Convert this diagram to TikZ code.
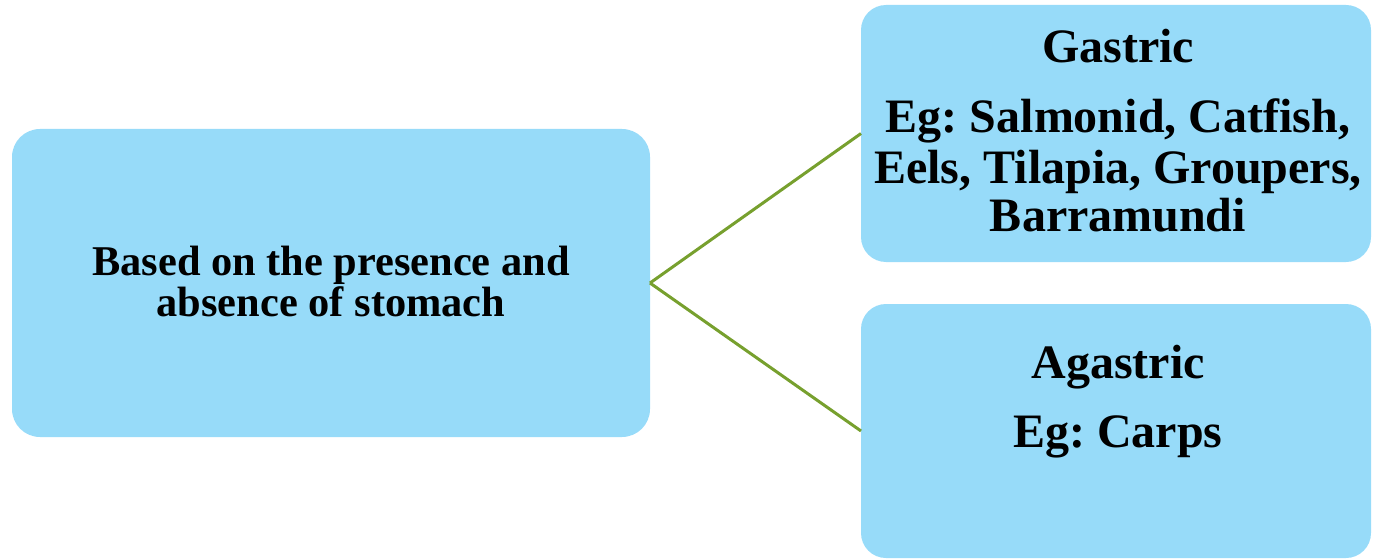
\documentclass[tikz,border=0pt]{standalone}
\usepackage{fontspec}
\setmainfont{Liberation Serif}
\definecolor{boxblue}{RGB}{151,219,249}
\definecolor{linkgreen}{RGB}{119,160,46}
\frenchspacing
\begin{document}
\begin{tikzpicture}[x=1pt,y=-1pt,
  box/.style={fill=boxblue, draw=none, inner sep=0pt, outer sep=0pt},
  link/.style={draw=linkgreen, line width=3pt},
  txtL/.style={font=\bfseries\fontsize{42.4}{41}\selectfont, anchor=base, inner sep=0pt},
  txtR/.style={font=\bfseries\fontsize{48}{50}\selectfont, anchor=base, inner sep=0pt}]
\useasboundingbox (0,0) rectangle (1373,559);
\node[box, rounded corners=28pt, minimum width=638pt, minimum height=308pt] (root) at (331,283) {};
\node[box, rounded corners=25pt, minimum width=510pt, minimum height=257pt] (gas) at (1116,133.5) {};
\node[box, rounded corners=25pt, minimum width=510pt, minimum height=254pt] (agas) at (1116,431) {};
\draw[link] (root.east) -- (gas.west);
\draw[link] (root.east) -- (agas.west);
\node[txtL] (l1) at (331,275) {Based on the presence and};
\node[txtL] (l2) at (331,316) {absence of stomach};
\node[txtR] (g1) at (1118,63) {Gastric};
\node[txtR] (g2) at (1118,132) {Eg: Salmonid, Catfish,};
\node[txtR] (g3) at (1118,183) {Eels, Tilapia, Groupers,};
\node[txtR] (g4) at (1118,231) {Barramundi};
\node[txtR] (a1) at (1118,378) {Agastric};
\node[txtR] (a2) at (1118,447) {Eg: Carps};
\end{tikzpicture}
\end{document}
